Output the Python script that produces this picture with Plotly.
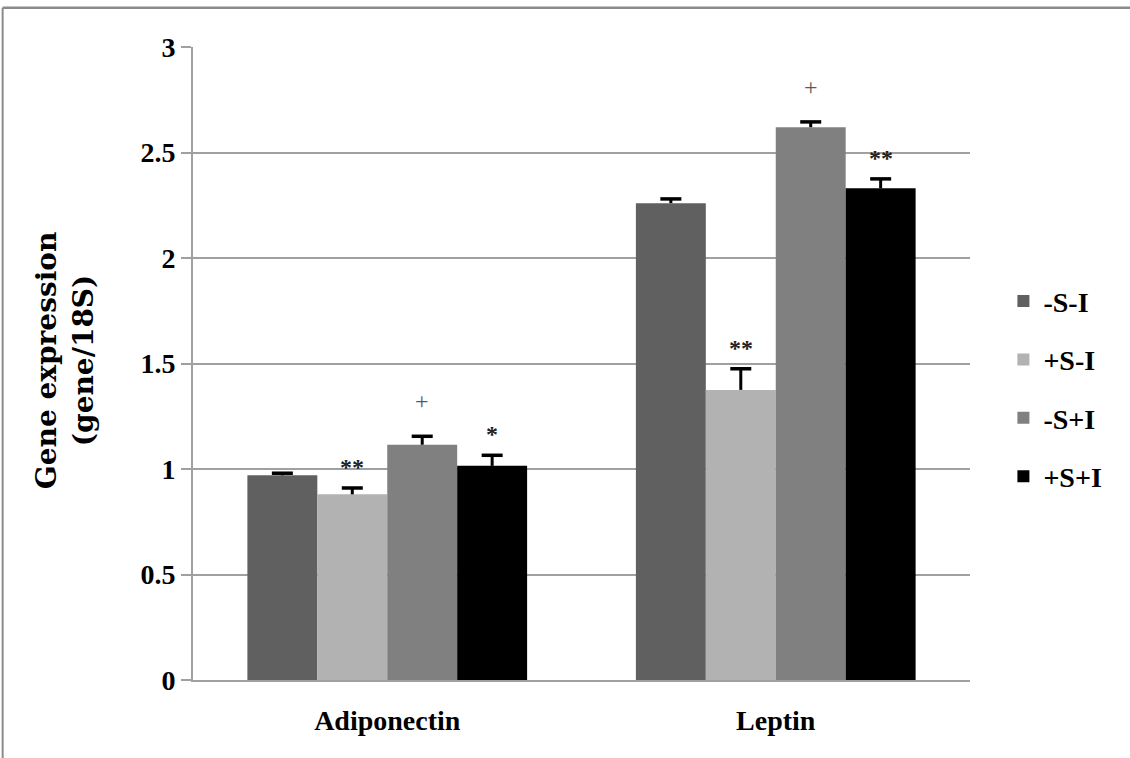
import plotly.graph_objects as go

# Gene expression relative to 18S, mean with upward SEM bar
genes = ["Adiponectin", "Leptin"]
groups = ["-S-I", "+S-I", "-S+I", "+S+I"]
colors = ["#606060", "#b2b2b2", "#808080", "#000000"]

mean_si = {
    "-S-I": [0.97, 2.26],
    "+S-I": [0.88, 1.375],
    "-S+I": [1.115, 2.62],
    "+S+I": [1.015, 2.33],
}
sem_si = {
    "-S-I": [0.01, 0.02],
    "+S-I": [0.03, 0.10],
    "-S+I": [0.04, 0.025],
    "+S+I": [0.05, 0.045],
}
# significance marks above each bar ("" = none)
marks = {
    "-S-I": ["", ""],
    "+S-I": ["**", "**"],
    "-S+I": ["+", "+"],
    "+S+I": ["*", "**"],
}

y_ticks = [0, 0.5, 1, 1.5, 2, 2.5, 3]
y_ticktext = ["0", "0.5", "1", "1.5", "2", "2.5", "3"]

SERIF = "Liberation Serif"
BAR_PX = 70  # rendered width of one bar in pixels
GAP = 0.28

fig = go.Figure()
for i, g in enumerate(groups):
    # bar with the error stem only (no caps)
    fig.add_trace(go.Bar(
        name=g,
        x=genes,
        y=mean_si[g],
        marker=dict(color=colors[i], line=dict(width=0)),
        error_y=dict(type="data", symmetric=False, array=sem_si[g],
                     arrayminus=[0] * len(genes), color="black",
                     thickness=3, width=0),
        offsetgroup=g,
        legendgroup=g,
    ))

for i, g in enumerate(groups):
    # cap at the top end of each error bar
    tops = [m + s for m, s in zip(mean_si[g], sem_si[g])]
    fig.add_trace(go.Scatter(
        x=genes, y=tops, mode="markers",
        marker=dict(symbol="line-ew-open", size=15, color="black",
                    line=dict(color="black", width=3.5)),
        offsetgroup=g, legendgroup=g, showlegend=False, hoverinfo="skip",
    ))

# significance annotations, offset over each bar of the group
for i, g in enumerate(groups):
    offset = (i - 1.5) * BAR_PX
    for j, gene in enumerate(genes):
        m = marks[g][j]
        if not m:
            continue
        top = mean_si[g][j] + sem_si[g][j]
        if m == "+":
            font = dict(family=SERIF, size=24, color="#595959")
            shift = 20
        else:
            font = dict(family=SERIF, size=24, color="#222222", weight="bold")
            shift = 6
        fig.add_annotation(x=gene, y=top, text=m, showarrow=False,
                           xshift=offset, yshift=shift, yanchor="bottom",
                           font=font)

# y-axis title (two lines)
fig.add_annotation(xref="paper", yref="paper", x=-0.165, y=0.505,
                   text="Gene expression<br>(gene/18S)", showarrow=False,
                   textangle=-90, xanchor="center", yanchor="middle",
                   font=dict(family="DejaVu Serif", size=28, color="black",
                             weight="bold"))

# thin frame along top and left edges of the figure
fig.add_shape(type="line", xref="paper", yref="paper",
              x0=-0.245, x1=1.21, y0=1.062, y1=1.062,
              line=dict(color="#8a8a8a", width=2.5))
fig.add_shape(type="line", xref="paper", yref="paper",
              x0=-0.245, x1=-0.245, y0=1.062, y1=-0.13,
              line=dict(color="#8a8a8a", width=2))

fig.update_layout(
    width=1130, height=758,
    margin=dict(l=193, r=160, t=47, b=78),
    paper_bgcolor="white", plot_bgcolor="white",
    barmode="group", bargap=GAP, bargroupgap=0,
    scattermode="group", scattergap=GAP,
    showlegend=True,
    legend=dict(x=1.043, xanchor="left", y=0.46, yanchor="middle",
                font=dict(family=SERIF, size=28, color="black", weight="bold"),
                tracegroupgap=19, bgcolor="rgba(0,0,0,0)"),
    font=dict(family=SERIF, color="black"),
)
fig.update_xaxes(
    showline=True, linecolor="#a0a0a0", linewidth=2,
    ticks="", ticklabelstandoff=14,
    tickfont=dict(family=SERIF, size=28, color="black", weight="bold"),
    showgrid=False,
)
fig.update_yaxes(
    range=[0, 3], tickvals=y_ticks, ticktext=y_ticktext,
    showline=True, linecolor="#a0a0a0", linewidth=2,
    ticks="outside", ticklen=10, tickcolor="#a0a0a0", tickwidth=2,
    showgrid=True, gridcolor="#a0a0a0", gridwidth=2,
    zeroline=False,
    tickfont=dict(family=SERIF, size=28, color="black", weight="bold"),
)

fig.write_html("out.html")
